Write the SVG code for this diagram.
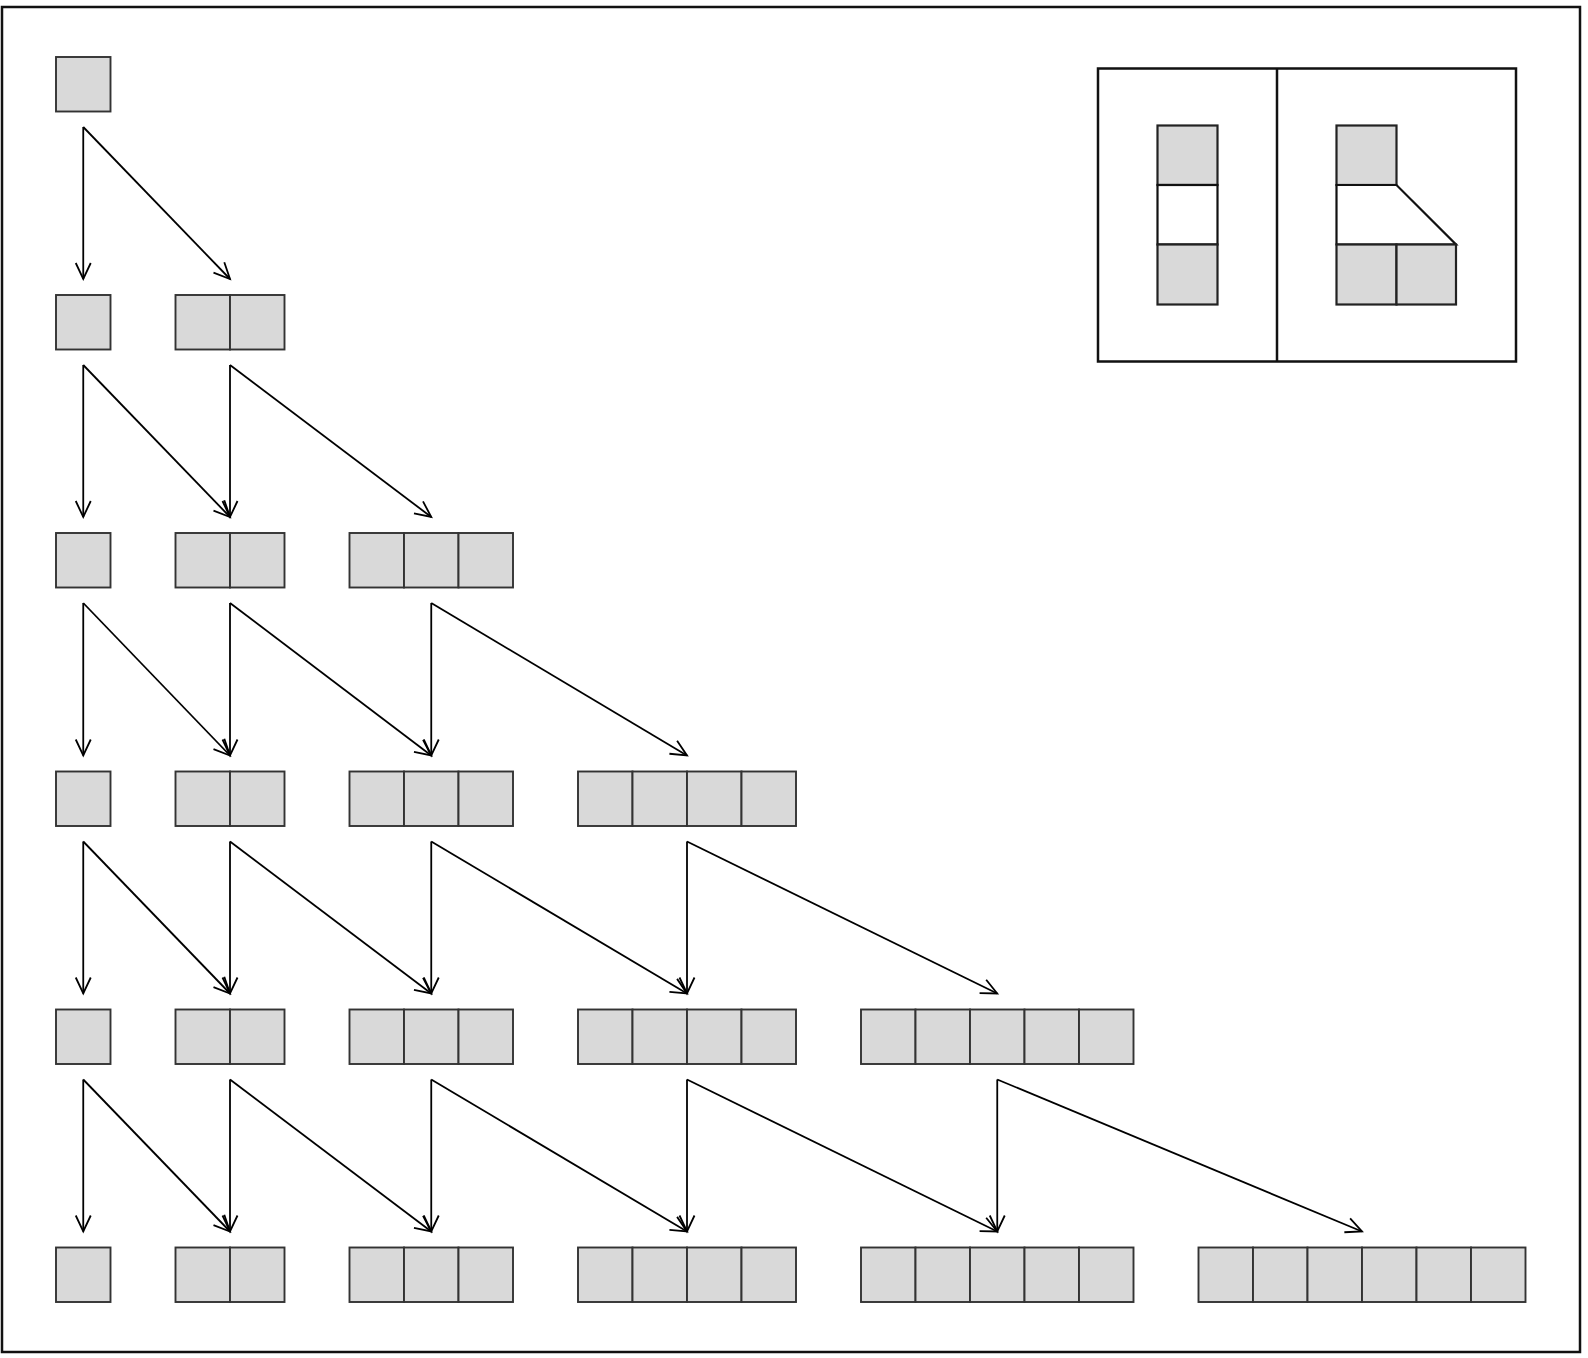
<svg xmlns="http://www.w3.org/2000/svg" width="1588" height="1358" viewBox="0 0 1588 1358">
<style>
.c{fill:#d9d9d9;stroke:#333;stroke-width:1.9}
.lc{fill:#d9d9d9;stroke:#222;stroke-width:2.2}
.w{fill:#fff;stroke:#111;stroke-width:2.2}
.a{fill:none;stroke:#000;stroke-width:1.8;marker-end:url(#ah)}
.frame{fill:none;stroke:#111;stroke-width:2.5}
</style>
<defs>
<marker id="ah" markerUnits="userSpaceOnUse" markerWidth="24" markerHeight="20" viewBox="-20 -10 24 20" refX="0" refY="0" orient="auto">
<path d="M-16,-7.5 L0,0 L-16,7.5" fill="none" stroke="#000" stroke-width="1.8"/>
</marker>
<g id="c1"><rect class="c" x="0" y="0" width="54.5" height="54.5"/></g>
<g id="c2"><use href="#c1"/><use href="#c1" x="54.5"/></g>
<g id="c3"><use href="#c2"/><use href="#c1" x="109"/></g>
<g id="c4"><use href="#c2"/><use href="#c2" x="109"/></g>
<g id="c5"><use href="#c4"/><use href="#c1" x="218"/></g>
<g id="c6"><use href="#c4"/><use href="#c2" x="218"/></g>
</defs>
<rect width="1588" height="1358" fill="#fff"/>
<rect class="frame" x="2" y="7" width="1578" height="1345"/>

<g id="nodes">
<g id="n0-0" transform="translate(56,57)"><use href="#c1"/></g>

<g id="n1-0" transform="translate(56,295)"><use href="#c1"/></g>
<g id="n1-1" transform="translate(175.5,295)"><use href="#c2"/></g>

<g id="n2-0" transform="translate(56,533)"><use href="#c1"/></g>
<g id="n2-1" transform="translate(175.5,533)"><use href="#c2"/></g>
<g id="n2-2" transform="translate(349.5,533)"><use href="#c3"/></g>

<g id="n3-0" transform="translate(56,771.5)"><use href="#c1"/></g>
<g id="n3-1" transform="translate(175.5,771.5)"><use href="#c2"/></g>
<g id="n3-2" transform="translate(349.5,771.5)"><use href="#c3"/></g>
<g id="n3-3" transform="translate(578,771.5)"><use href="#c4"/></g>

<g id="n4-0" transform="translate(56,1009.5)"><use href="#c1"/></g>
<g id="n4-1" transform="translate(175.5,1009.5)"><use href="#c2"/></g>
<g id="n4-2" transform="translate(349.5,1009.5)"><use href="#c3"/></g>
<g id="n4-3" transform="translate(578,1009.5)"><use href="#c4"/></g>
<g id="n4-4" transform="translate(861,1009.5)"><use href="#c5"/></g>

<g id="n5-0" transform="translate(56,1247.5)"><use href="#c1"/></g>
<g id="n5-1" transform="translate(175.5,1247.5)"><use href="#c2"/></g>
<g id="n5-2" transform="translate(349.5,1247.5)"><use href="#c3"/></g>
<g id="n5-3" transform="translate(578,1247.5)"><use href="#c4"/></g>
<g id="n5-4" transform="translate(861,1247.5)"><use href="#c5"/></g>
<g id="n5-5" transform="translate(1198.5,1247.5)"><use href="#c6"/></g>
</g>

<g id="connectors">
<path class="a" d="M83.25,127 V279"/>
<path class="a" d="M83.25,127 L230,279"/>

<path class="a" d="M83.25,365 V517"/>
<path class="a" d="M83.25,365 L230,517"/>
<path class="a" d="M230,365 V517"/>
<path class="a" d="M230,365 L431.25,517"/>

<path class="a" d="M83.25,603 V755.5"/>
<path class="a" d="M83.25,603 L230,755.5"/>
<path class="a" d="M230,603 V755.5"/>
<path class="a" d="M230,603 L431.25,755.5"/>
<path class="a" d="M431.25,603 V755.5"/>
<path class="a" d="M431.25,603 L687,755.5"/>

<path class="a" d="M83.25,841.5 V993.5"/>
<path class="a" d="M83.25,841.5 L230,993.5"/>
<path class="a" d="M230,841.5 V993.5"/>
<path class="a" d="M230,841.5 L431.25,993.5"/>
<path class="a" d="M431.25,841.5 V993.5"/>
<path class="a" d="M431.25,841.5 L687,993.5"/>
<path class="a" d="M687,841.5 V993.5"/>
<path class="a" d="M687,841.5 L997.25,993.5"/>

<path class="a" d="M83.25,1079.5 V1231.5"/>
<path class="a" d="M83.25,1079.5 L230,1231.5"/>
<path class="a" d="M230,1079.5 V1231.5"/>
<path class="a" d="M230,1079.5 L431.25,1231.5"/>
<path class="a" d="M431.25,1079.5 V1231.5"/>
<path class="a" d="M431.25,1079.5 L687,1231.5"/>
<path class="a" d="M687,1079.5 V1231.5"/>
<path class="a" d="M687,1079.5 L997.25,1231.5"/>
<path class="a" d="M997.25,1079.5 V1231.5"/>
<path class="a" d="M997.25,1079.5 L1362,1231.5"/>
</g>

<g id="legend">
<rect class="frame" x="1098" y="68.5" width="418" height="293"/>
<line x1="1277" y1="68.5" x2="1277" y2="361.5" stroke="#111" stroke-width="2.5"/>
<g id="legend-left">
<rect class="lc" x="1157.5" y="125.5" width="60" height="59.5"/>
<rect class="w" x="1157.5" y="185" width="60" height="59.5"/>
<rect class="lc" x="1157.5" y="244.5" width="60" height="60"/>
</g>
<g id="legend-right">
<rect class="lc" x="1336.5" y="125.5" width="60" height="59.5"/>
<path class="w" d="M1336.5,185 H1396.5 L1456,244.5 H1336.5 Z"/>
<rect class="lc" x="1336.5" y="244.5" width="60" height="60"/>
<rect class="lc" x="1396.5" y="244.5" width="59.5" height="60"/>
</g>
</g>
</svg>
